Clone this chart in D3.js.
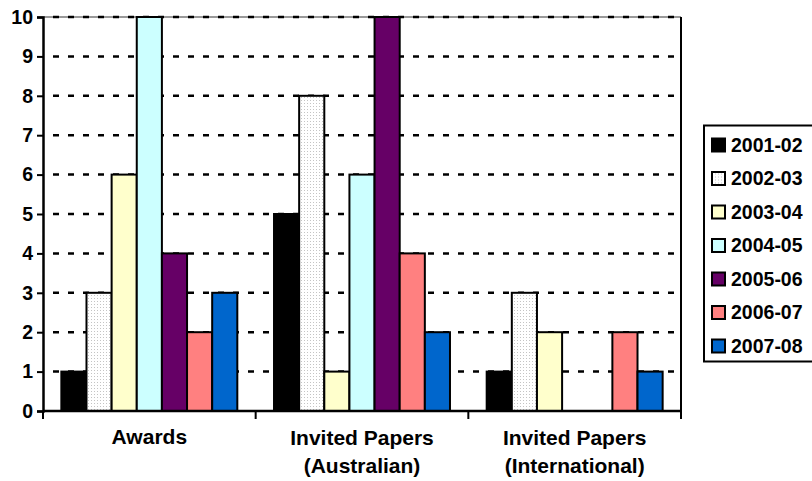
<!DOCTYPE html>
<html><head><meta charset="utf-8">
<script src="https://cdn.jsdelivr.net/npm/d3@7"></script>
<style>
html,body{margin:0;padding:0;background:#fff;}
svg{display:block;font-family:"Liberation Sans",Arial,sans-serif;font-weight:bold;}
</style></head>
<body><svg id="c" width="812" height="481"></svg>
<script>
const categories = [["Awards"], ["Invited Papers", "(Australian)"], ["Invited Papers", "(International)"]];
const seriesNames = ["2001-02", "2002-03", "2003-04", "2004-05", "2005-06", "2006-07", "2007-08"];
const values2001_02 = [1, 5, 1];
const values2002_03 = [3, 8, 3];
const values2003_04 = [6, 1, 2];
const values2004_05 = [10, 6, 0];
const values2005_06 = [4, 10, 0];
const values2006_07 = [2, 4, 2];
const values2007_08 = [3, 2, 1];
const seriesValues = [values2001_02, values2002_03, values2003_04, values2004_05, values2005_06, values2006_07, values2007_08];
const seriesColors = ["#000000", "url(#dots)", "#FFFFCC", "#CCFFFF", "#660066", "#FF8080", "#0066CC"];
const yTicks = [0,1,2,3,4,5,6,7,8,9,10];

const svg = d3.select("#c");
const defs = svg.append("defs");
const pat = defs.append("pattern").attr("id","dots").attr("patternUnits","userSpaceOnUse")
  .attr("width",3).attr("height",3);
pat.append("rect").attr("width",3).attr("height",3).attr("fill","#ffffff");
pat.append("rect").attr("x",1).attr("y",1).attr("width",1).attr("height",1).attr("fill","#c4c4c4");

const L = 43, R = 681, T = 17, B = 411;
const x0 = d3.scaleBand().domain(d3.range(categories.length)).range([L, R]).padding(0);
const x1 = d3.scaleBand().domain(seriesNames).range([0, x0.bandwidth()]).paddingInner(0).paddingOuter(0.73);
const y = d3.scaleLinear().domain([0, 10]).range([B, T]);

// plot border (top grey)
svg.append("line").attr("x1",L).attr("x2",R).attr("y1",T).attr("y2",T).attr("stroke","#999").attr("stroke-width",2);
// gridlines
svg.append("g").selectAll("line").data(yTicks.filter(d=>d>0)).join("line")
  .attr("x1",L+1).attr("x2",R).attr("y1",d=>y(d)).attr("y2",d=>y(d))
  .attr("stroke","#000").attr("stroke-width",2.5).attr("stroke-dasharray","6,9").attr("stroke-dashoffset",-9);
// right border
svg.append("line").attr("x1",R).attr("x2",R).attr("y1",T).attr("y2",B).attr("stroke","#000").attr("stroke-width",2);

// bars
const rows = [];
seriesNames.forEach((s,i)=>{ seriesValues[i].forEach((v,c)=>{ rows.push({s, i, c, v}); }); });
svg.append("g").selectAll("rect").data(rows.filter(d=>d.v>0)).join("rect")
  .attr("x",d=>x0(d.c)+x1(d.s))
  .attr("y",d=>y(d.v))
  .attr("width",x1.bandwidth())
  .attr("height",d=>y(0)-y(d.v))
  .attr("fill",d=>seriesColors[d.i])
  .attr("stroke","#000").attr("stroke-width",2);

// y axis
const yAxis = d3.axisLeft(y).tickValues(yTicks).tickSize(6).tickPadding(4).tickFormat(d3.format("d"));
const gy = svg.append("g").attr("transform",`translate(${L},0)`).call(yAxis);
gy.select(".domain").attr("stroke","#000").attr("stroke-width",2.5);
gy.selectAll(".tick line").attr("stroke","#000").attr("stroke-width",2);
gy.selectAll(".tick text").attr("font-size",19.5).attr("font-weight","bold").attr("font-family","Liberation Sans, Arial, sans-serif").attr("fill","#000");

// x axis
const xAxisLine = svg.append("g");
xAxisLine.append("line").attr("x1",L).attr("x2",R).attr("y1",B).attr("y2",B).attr("stroke","#000").attr("stroke-width",2.5);
const bounds = d3.range(categories.length+1).map(i=> i<categories.length ? x0(i) : R);
xAxisLine.selectAll("line.t").data(bounds).join("line").attr("class","t")
  .attr("x1",d=>d).attr("x2",d=>d).attr("y1",B).attr("y2",B+8).attr("stroke","#000").attr("stroke-width",2);
const lab = svg.append("g").selectAll("text").data(categories).join("text")
  .attr("x",(d,i)=>x0(i)+x0.bandwidth()/2)
  .attr("y",(d)=> d.length===1 ? 437 : 438)
  .attr("text-anchor","middle").attr("font-size",21);
lab.selectAll("tspan").data(d=>d).join("tspan")
  .attr("x",function(){return d3.select(this.parentNode).attr("x");})
  .attr("dy",(d,i)=> i===0 ? "0.35em" : 28).text(d=>d);

// legend
const lg = svg.append("g");
lg.append("rect").attr("x",704).attr("y",125.5).attr("width",130).attr("height",236).attr("fill","#fff").attr("stroke","#000").attr("stroke-width",2);
const ly = d3.scalePoint().domain(seriesNames).range([145, 346]);
const li = lg.selectAll("g.it").data(seriesNames).join("g").attr("class","it")
  .attr("transform",d=>`translate(0,${ly(d)})`);
li.append("rect").attr("x",712).attr("y",-6.5).attr("width",13).attr("height",13)
  .attr("fill",(d,i)=>seriesColors[i]).attr("stroke","#000").attr("stroke-width",2);
li.append("text").attr("x",731).attr("y",0).attr("dy","0.35em").attr("font-size",19.5).text(d=>d);
</script></body></html>
